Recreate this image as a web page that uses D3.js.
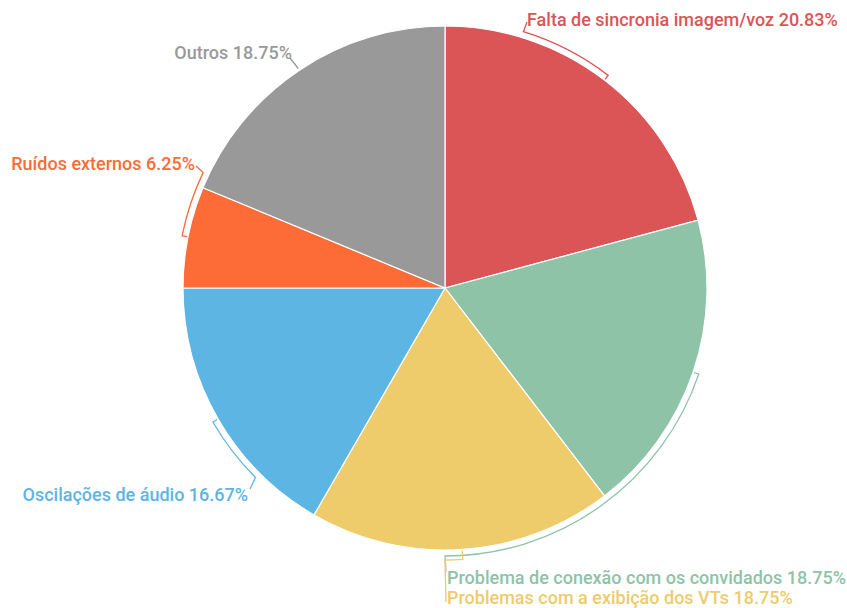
<!DOCTYPE html>
<html>
<head>
<meta charset="utf-8">
<script src="https://cdn.jsdelivr.net/npm/d3@7"></script>
<style>
  body { margin: 0; background: #fff; }
  svg text { font-family: Roboto, "Noto Sans", sans-serif; font-weight: 500; }
</style>
</head>
<body>
<svg width="847" height="608"></svg>
<script>
var categories = [
  "Falta de sincronia imagem/voz",
  "Problema de conexão com os convidados",
  "Problemas com a exibição dos VTs",
  "Oscilações de áudio",
  "Ruídos externos",
  "Outros"
];
var values = [10, 9, 9, 8, 3, 9];
var colors = ["#db5557", "#8ec3a7", "#eecb6b", "#5db5e4", "#fd6b37", "#999999"];

// label layout: angle (deg) where the bracket ends, radius of the bracket, text anchor point
var labelLayout = [
  {end: 17,    rad: 268, x: 527, y: 22,  tx: 527, ty: 26,  anchor: "start"},
  {end: 180,   rad: 268, x: 446, y: 572, tx: 447, ty: 584, anchor: "start"},
  {end: 180,   rad: 272, x: 446, y: 602, tx: 447, ty: 604, anchor: "start"},
  {end: 225,   rad: 268, x: 250, y: 489, tx: 248, ty: 501, anchor: "end"},
  {end: 295.5, rad: 268, x: 196, y: 166, tx: 195, ty: 170, anchor: "end"},
  {end: null,  rad: 265, x: 290, y: 58,  tx: 292, ty: 59,  anchor: "end"}
];

var svg = d3.select("svg"),
    cx = 445,
    cy = 288,
    radius = 262;

var total = d3.sum(values);
var data = categories.map(function(c, i) {
  return {name: c, value: values[i], color: colors[i], layout: labelLayout[i]};
});

var pie = d3.pie().sort(null).value(function(d) { return d.value; });
var arc = d3.arc().innerRadius(0).outerRadius(radius);

var g = svg.append("g")
    .attr("transform", "translate(" + cx + "," + cy + ")");

var arcs = pie(data);

g.selectAll("path.slice")
    .data(arcs)
  .enter().append("path")
    .attr("class", "slice")
    .attr("d", arc)
    .attr("fill", function(d) { return d.data.color; })
    .attr("stroke", "#fff")
    .attr("stroke-width", 1.2);

function pt(a, r) {
  return [Math.sin(a) * r, -Math.cos(a) * r];
}

// bracket leader lines
g.selectAll("path.leader")
    .data(arcs)
  .enter().append("path")
    .attr("class", "leader")
    .attr("fill", "none")
    .attr("stroke", function(d) { return d.data.color; })
    .attr("stroke-width", 1.3)
    .attr("d", function(d) {
      var L = d.data.layout,
          mid = (d.startAngle + d.endAngle) / 2,
          p = d3.path(),
          tip = pt(mid, radius + 1),
          start = pt(mid, L.rad);
      if (L.end === null) {
        var s = pt(mid, radius + 2);
        p.moveTo(s[0], s[1]);
        p.lineTo(L.x - cx, L.y - cy);
        return p.toString();
      }
      var end = L.end * Math.PI / 180;
      p.moveTo(tip[0], tip[1]);
      p.lineTo(start[0], start[1]);
      p.arc(0, 0, L.rad, mid - Math.PI / 2, end - Math.PI / 2, end < mid);
      p.lineTo(L.x - cx, L.y - cy);
      return p.toString();
    });

svg.selectAll("text.label")
    .data(arcs)
  .enter().append("text")
    .attr("class", "label")
    .attr("x", function(d) { return d.data.layout.tx; })
    .attr("y", function(d) { return d.data.layout.ty; })
    .attr("text-anchor", function(d) { return d.data.layout.anchor; })
    .attr("fill", function(d) { return d.data.color; })
    .style("font-size", "18px")
    .text(function(d) {
      var pct = +(d.value / total * 100).toFixed(2);
      return d.data.name + " " + pct + "%";
    });
</script>
</body>
</html>
